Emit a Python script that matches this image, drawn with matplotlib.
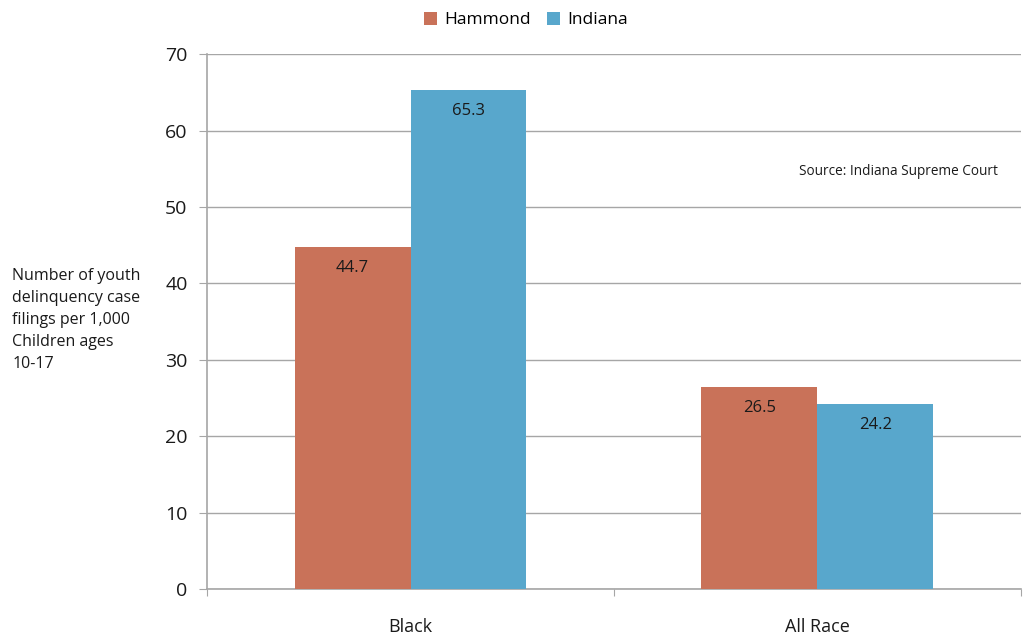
import numpy as np
import matplotlib.pyplot as plt

plt.rcParams["font.family"] = ["Open Sans", "DejaVu Sans"]

categories = ["Black", "All Race"]
hammond = [44.7, 26.5]
indiana = [65.3, 24.2]
series_names = ["Hammond", "Indiana"]

col_ham = "#C97259"
col_ind = "#58A7CC"
grid_col = "#A6A6A6"

fig = plt.figure(figsize=(10.25, 6.37), dpi=100)
ax = fig.add_axes([0.202, 0.0754, 0.794, 0.8396])

x = np.arange(len(categories))
w = 0.285
b1 = ax.bar(x - w / 2, hammond, w, color=col_ham, label=series_names[0], zorder=3)
b2 = ax.bar(x + w / 2, indiana, w, color=col_ind, label=series_names[1], zorder=3)

for bars, vals in ((b1, hammond), (b2, indiana)):
    for rect, v in zip(bars, vals):
        ax.annotate(f"{v:.1f}", (rect.get_x() + rect.get_width() / 2, v),
                    xytext=(0, -21), textcoords="offset pixels",
                    ha="center", va="center", fontsize=12, color="#1a1a1a", zorder=4)

ax.set_ylim(0, 70)
ax.set_xlim(-0.5, 1.5)
ax.set_yticks(np.arange(0, 71, 10))
ax.yaxis.grid(True, color=grid_col, linewidth=1.0, zorder=0)
ax.tick_params(axis="y", labelsize=14, colors=grid_col, labelcolor="#1a1a1a",
               length=6, pad=8)

ax.set_xticks([-0.5, 0.5, 1.5])
ax.set_xticklabels([])
ax.set_xticks(x, minor=True)
ax.set_xticklabels(categories, minor=True)
ax.tick_params(axis="x", which="major", length=5, colors=grid_col)
ax.tick_params(axis="x", which="minor", length=0, pad=21, labelsize=13,
               labelcolor="#1a1a1a")

for s in ("top", "right"):
    ax.spines[s].set_visible(False)
for s in ("left", "bottom"):
    ax.spines[s].set_color(grid_col)
    ax.spines[s].set_linewidth(1.2)

fig.text(0.012, 0.497, "Number of youth\ndelinquency case\nfilings per 1,000\nChildren ages\n10-17",
         ha="left", va="center", fontsize=11.5, color="#1a1a1a", linespacing=1.5)

ax.text(0.972, 0.78, "Source: Indiana Supreme Court", transform=ax.transAxes,
        ha="right", va="center", fontsize=9.8, color="#1a1a1a")

fig.legend(loc="upper center", bbox_to_anchor=(0.513, 1.006), ncol=2, frameon=False,
           fontsize=12.5, handlelength=0.75, handleheight=0.75, handletextpad=0.45,
           columnspacing=0.9)

fig.savefig("out.png", dpi=100)
